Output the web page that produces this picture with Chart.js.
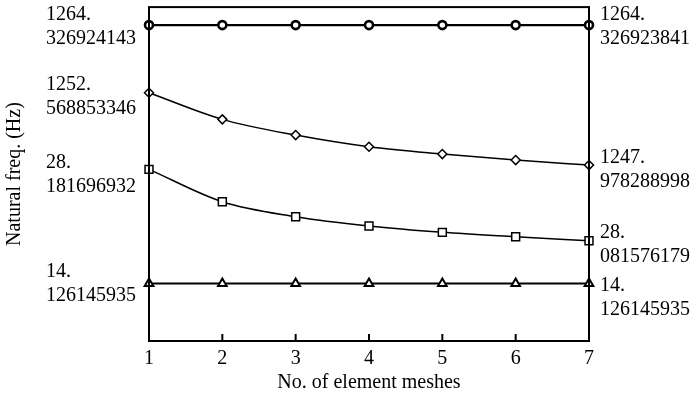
<!DOCTYPE html>
<html>
<head>
<meta charset="utf-8">
<script src="https://cdn.jsdelivr.net/npm/chart.js@4.4.1/dist/chart.umd.min.js"></script>
<style>
  html, body { margin: 0; padding: 0; background: #fff; }
  canvas { display: block; }
</style>
</head>
<body>
<canvas id="freqChart" width="695" height="398"></canvas>
<script>
// number of element meshes
let meshes = [1, 2, 3, 4, 5, 6, 7];
// natural frequencies (Hz) of the four modes
let mode1 = [1264.326924143, 1264.326924, 1264.326924, 1264.326924, 1264.326924, 1264.326924, 1264.326923841];
let mode2 = [1252.568853346, 1250.880, 1249.883, 1249.140, 1248.677, 1248.296, 1247.978288998];
let mode3 = [28.181696932, 28.13626, 28.11523, 28.10219, 28.09335, 28.08718, 28.081576179];
let mode4 = [14.126145935, 14.126145935, 14.126145935, 14.126145935, 14.126145935, 14.126145935, 14.126145935];

// each mode sits on its own hidden axis (the plot is schematic)
function rangeFor(data, fFirst, fLast, flatSpan) {
  let a = data[0];
  let b = data[data.length - 1];
  let span = fLast > fFirst ? (a - b) / (fLast - fFirst) : flatSpan;
  return { min: a - (1 - fFirst) * span, max: a + fFirst * span };
}

// vertical nudges for the value labels at both ends
let leftShift = [-10, -8, -7, -12];
let rightShift = [-10, -7, -8, 2];

function drawValue(ctx, v, x, y) {
  let parts = String(v).split(".");
  ctx.fillText(parts[0] + ".", x, y);
  ctx.fillText(parts[1], x, y + 24);
}

const boxPlugin = {
  id: "box",
  afterDatasetsDraw(chart) {
    const ctx = chart.ctx;
    const a = chart.chartArea;
    ctx.save();
    ctx.strokeStyle = "#000";
    ctx.lineWidth = 2;
    ctx.strokeRect(a.left, a.top, a.right - a.left, a.bottom - a.top);
    meshes.forEach(function (m, i) {
      let x = chart.scales.x.getPixelForValue(i);
      ctx.beginPath();
      ctx.moveTo(x, a.bottom);
      ctx.lineTo(x, a.bottom - 7);
      ctx.stroke();
    });
    ctx.font = '20px "Liberation Serif"';
    ctx.fillStyle = "#000";
    ctx.textAlign = "left";
    ctx.textBaseline = "middle";
    chart.data.datasets.forEach(function (ds, i) {
      let pts = chart.getDatasetMeta(i).data;
      drawValue(ctx, ds.data[0], a.left - 103, pts[0].y + leftShift[i]);
      drawValue(ctx, ds.data[ds.data.length - 1], a.right + 11, pts[pts.length - 1].y + rightShift[i]);
    });
    ctx.restore();
  }
};

Chart.defaults.font.family = '"Liberation Serif", "Times New Roman", serif';
Chart.defaults.font.size = 20;
Chart.defaults.color = "#000";

let data = {
  labels: meshes,
  datasets: [
    {
      data: mode1, yAxisID: "y1",
      borderColor: "#000", borderWidth: 2.4,
      pointStyle: "circle", pointRadius: 4, pointBorderWidth: 2.6,
      pointBackgroundColor: "#fff", pointBorderColor: "#000"
    },
    {
      data: mode2, yAxisID: "y2",
      borderColor: "#000", borderWidth: 1.5, cubicInterpolationMode: "monotone",
      pointStyle: "rectRot", pointRadius: 4.5, pointBorderWidth: 1.5,
      pointBackgroundColor: "#fff", pointBorderColor: "#000"
    },
    {
      data: mode3, yAxisID: "y3",
      borderColor: "#000", borderWidth: 1.5, cubicInterpolationMode: "monotone",
      pointStyle: "rect", pointRadius: 5.6, pointBorderWidth: 1.5,
      pointBackgroundColor: "#fff", pointBorderColor: "#000"
    },
    {
      data: mode4, yAxisID: "y4",
      borderColor: "#000", borderWidth: 2,
      pointStyle: "triangle", pointRadius: 5, pointBorderWidth: 2,
      pointBackgroundColor: "#fff", pointBorderColor: "#000"
    }
  ]
};

let r2 = rangeFor(mode2, 0.2566, 0.4731, 1);

let options = {
  responsive: false,
  animation: false,
  devicePixelRatio: 1,
  layout: { padding: { top: 7, right: 106, left: 0, bottom: 0 } },
  plugins: { legend: { display: false }, tooltip: { enabled: false } },
  scales: {
    x: {
      type: "category",
      offset: false,
      grid: { display: false, drawTicks: false },
      border: { display: false },
      ticks: { padding: 6, maxRotation: 0 },
      title: { display: true, text: "No. of element meshes", padding: { top: 0, bottom: 3 } },
      afterFit: function (scale) { scale.height = 57; }
    },
    y1: Object.assign({ display: false, position: "left" }, rangeFor(mode1, 0.0539, 0.0539, 1)),
    y2: {
      display: true, position: "left", min: r2.min, max: r2.max,
      grid: { display: false, drawTicks: false },
      border: { display: false },
      ticks: { display: false },
      title: { display: true, text: "Natural freq. (Hz)", padding: { top: 3, bottom: 0 } },
      afterFit: function (scale) { scale.width = 149; }
    },
    y3: Object.assign({ display: false, position: "left" }, rangeFor(mode3, 0.4859, 0.6997, 1)),
    y4: Object.assign({ display: false, position: "left" }, rangeFor(mode4, 0.8278, 0.8278, 1))
  }
};

let ctx = document.getElementById("freqChart").getContext("2d");
let freqChart = new Chart(ctx, {
  type: "line",
  data: data,
  options: options,
  plugins: [boxPlugin]
});
</script>
</body>
</html>
